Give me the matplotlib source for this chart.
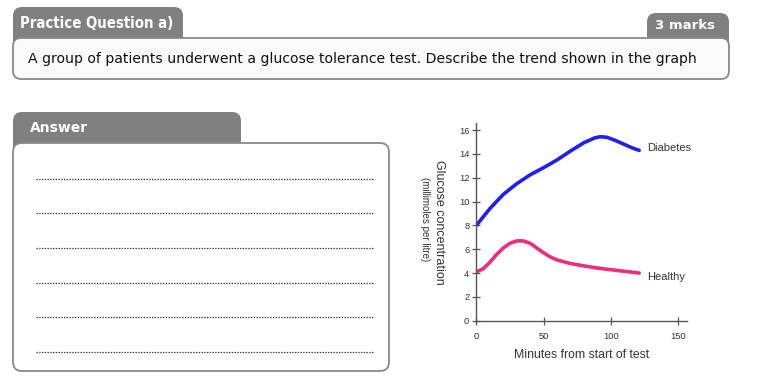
import matplotlib
matplotlib.use("Agg")
import matplotlib.pyplot as plt
from matplotlib.patches import FancyBboxPatch

# ---- data ----
diab_x = [0, 10, 20, 30, 40, 50, 60, 70, 80, 88, 92, 97, 103, 110, 116, 121]
diab_y = [8.0, 9.4, 10.6, 11.5, 12.25, 12.85, 13.5, 14.25, 14.95, 15.35, 15.45, 15.4, 15.15, 14.8, 14.5, 14.3]
heal_x = [0, 5, 10, 15, 20, 25, 30, 35, 40, 45, 50, 55, 60, 70, 80, 90, 100, 110, 121]
heal_y = [4.1, 4.35, 4.9, 5.55, 6.1, 6.5, 6.7, 6.7, 6.5, 6.1, 5.7, 5.35, 5.1, 4.8, 4.6, 4.42, 4.28, 4.15, 4.0]
x_ticks = [0, 50, 100, 150]
y_ticks = [0, 2, 4, 6, 8, 10, 12, 14, 16]
question_title = "Practice Question a)"
marks_text = "3 marks"
question_text = "A group of patients underwent a glucose tolerance test. Describe the trend shown in the graph"
answer_title = "Answer"
series_labels = ["Diabetes", "Healthy"]

W, H = 757, 377
fig = plt.figure(figsize=(W / 100, H / 100), dpi=100)
bg = fig.add_axes([0, 0, 1, 1])
bg.set_xlim(0, W)
bg.set_ylim(H, 0)
bg.axis("off")

GRAY = "#808080"
BORDER = "#8a8a8a"

def rbox(x0, y0, x1, y1, fc, ec, r=8, lw=1.2, z=1):
    p = FancyBboxPatch((x0 + r, y0 + r), (x1 - x0) - 2 * r, (y1 - y0) - 2 * r,
                       boxstyle=f"round,pad={r}", fc=fc, ec=ec, lw=lw, zorder=z)
    bg.add_patch(p)

# Question tabs and box
rbox(13, 7, 183, 50, GRAY, GRAY, r=9, lw=0, z=1)
rbox(647, 13, 729, 50, GRAY, GRAY, r=9, lw=0, z=1)
rbox(13, 38, 729, 79, "#fafafa", BORDER, r=8, lw=1.3, z=2)
bg.text(20, 23, question_title, color="white", fontsize=10.7, fontweight="bold",
        family="DejaVu Sans", va="center", ha="left", zorder=3, fontstretch="condensed")
bg.text(715, 25.5, marks_text, color="white", fontsize=9.5, fontweight="bold",
        family="DejaVu Sans", va="center", ha="right", zorder=3)
bg.text(28, 59, question_text, color="#111111", fontsize=10.1,
        family="DejaVu Sans", va="center", ha="left", zorder=3)

# Answer tab and box
rbox(13, 112, 241, 155, GRAY, GRAY, r=9, lw=0, z=1)
rbox(13, 143, 389, 371, "white", BORDER, r=9, lw=1.3, z=2)
bg.text(30, 128, answer_title, color="white", fontsize=10, fontweight="bold",
        family="DejaVu Sans", va="center", ha="left", zorder=3)
for yy in [179, 213, 248, 283, 317, 352]:
    bg.plot([36, 373], [yy, yy], color="#333333", lw=0.9, ls=(0, (1.1, 1.1)), zorder=3)

# ---- chart ----
ax = fig.add_axes([476.3 / W, 1 - 320.7 / H, (687 - 476.3) / W, (320.7 - 123) / H])
ax.set_facecolor("none")
ax.plot(diab_x, diab_y, color="#1e1ef5", lw=2.6, solid_capstyle="round")
ax.plot(heal_x, heal_y, color="#ee2d7d", lw=2.6, solid_capstyle="round")
ax.set_xlim(0, 156.5)
ax.set_ylim(0, 16.6)
ax.set_xticks(x_ticks)
ax.set_yticks(y_ticks)
for s in ["top", "right"]:
    ax.spines[s].set_visible(False)
for s in ["left", "bottom"]:
    ax.spines[s].set_color("#555555")
    ax.spines[s].set_linewidth(1.0)
ax.tick_params(direction="inout", length=6, width=0.9, colors="#555555",
               labelsize=6.7, labelcolor="#333333")
ax.tick_params(axis="x", pad=5)
ax.tick_params(axis="y", pad=2)
for lab in ax.get_xticklabels() + ax.get_yticklabels():
    lab.set_family("Liberation Sans")
ax.set_xlabel("Minutes from start of test", fontsize=8.8, color="#333333",
              family="Liberation Sans", labelpad=6)
ax.text(diab_x[-1] + 6, 14.5, series_labels[0], fontsize=8, color="#333333",
        family="Liberation Sans", va="center", ha="left")
ax.text(heal_x[-1] + 6, 3.7, series_labels[1], fontsize=8, color="#333333",
        family="Liberation Sans", va="center", ha="left")

fig.text(439 / W, 1 - 222 / H, "Glucose concentration", rotation=270, fontsize=9,
         color="#333333", family="Liberation Sans", ha="center", va="center")
fig.text(425 / W, 1 - 219 / H, "(millimoles per litre)", rotation=270, fontsize=7,
         color="#333333", family="Liberation Sans", ha="center", va="center")

fig.savefig("out.png", dpi=100)
